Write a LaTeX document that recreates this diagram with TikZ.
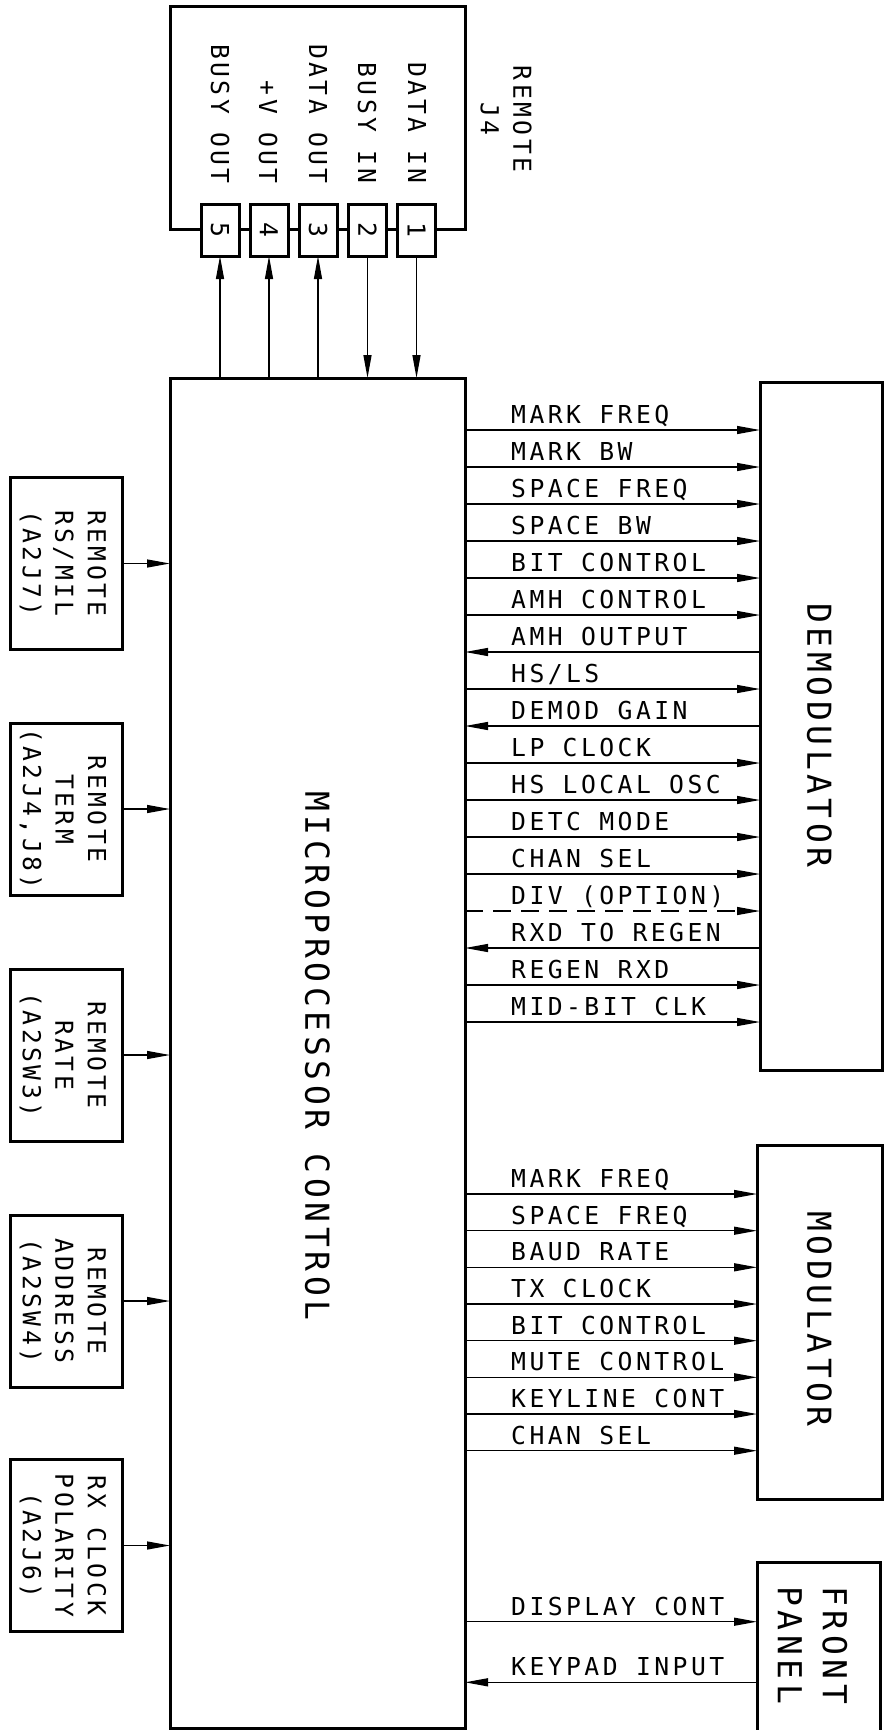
\documentclass[tikz,border=0pt]{standalone}
\usepackage{fontspec}
\setmainfont{DejaVu Sans Mono}[LetterSpace=14]
\usetikzlibrary{arrows.meta}
\newcommand\labf{\fontsize{24.7}{32.5}\selectfont}
\newcommand\bigf{\fontsize{33}{45}\selectfont}
\newcommand\sigR[5][]{\draw[sig,#1] (main.east |- 0,#4) -- (#3.west |- 0,#4);
  \node[lab,anchor=base west] (#2) at (511,#4-6.5) {#5};}
\newcommand\sigL[5][]{\draw[sig,#1] (#3.west |- 0,#4) -- (main.east |- 0,#4);
  \node[lab,anchor=base west] (#2) at (511,#4-6.5) {#5};}
\begin{document}
\begin{tikzpicture}[x=1pt,y=-1pt,
  box/.style={draw, line width=3pt, inner sep=0pt, outer sep=0pt},
  sig/.style={line width=1.3pt, -{Triangle[length=23pt,width=8pt]}},
  lab/.style={inner sep=0pt, font=\labf},
  rlab/.style={inner sep=0pt, font=\labf, rotate=-90, align=center},
  blab/.style={inner sep=0pt, font=\bigf, rotate=-90, align=center}]
\useasboundingbox (0,0) rectangle (885,1730);

% main block
\node[box, minimum width=295pt, minimum height=1350pt] (main) at (317.5,1053) {};
\node[blab] (mainlab) at (317.5,1056) {MICROPROCESSOR CONTROL};

% J4 connector
\node[box, minimum width=295pt, minimum height=223pt] (j4) at (317.5,117.5) {};
\node[box, fill=white, minimum width=38pt, minimum height=52pt] (p5) at (220,230) {};
\node[box, fill=white, minimum width=38pt, minimum height=52pt] (p4) at (269,230) {};
\node[box, fill=white, minimum width=38pt, minimum height=52pt] (p3) at (318,230) {};
\node[box, fill=white, minimum width=38pt, minimum height=52pt] (p2) at (367.5,230) {};
\node[box, fill=white, minimum width=38pt, minimum height=52pt] (p1) at (416.5,230) {};
\node[rlab] (n5) at (p5) {5};
\node[rlab] (n4) at (p4) {4};
\node[rlab] (n3) at (p3) {3};
\node[rlab] (n2) at (p2) {2};
\node[rlab] (n1) at (p1) {1};
\node[rlab, anchor=base east] (l5) at (211,184) {BUSY OUT};
\node[rlab, anchor=base east] (l4) at (259,184) {+V OUT};
\node[rlab, anchor=base east] (l3) at (309,184) {DATA OUT};
\node[rlab, anchor=base east] (l2) at (358,184) {BUSY IN};
\node[rlab, anchor=base east] (l1) at (408,184) {DATA IN};
\node[rlab] (j4lab) at (506,119) {REMOTE\\J4};
\draw[sig] (main.north -| p5) -- (p5.south);
\draw[sig] (main.north -| p4) -- (p4.south);
\draw[sig] (main.north -| p3) -- (p3.south);
\draw[sig] (p2.south) -- (main.north -| p2);
\draw[sig] (p1.south) -- (main.north -| p1);

% left blocks
\node[box, minimum width=112pt, minimum height=172pt] (b1) at (66,563.5) {};
\node[box, minimum width=112pt, minimum height=172pt] (b2) at (66,809) {};
\node[box, minimum width=112pt, minimum height=172pt] (b3) at (66,1055) {};
\node[box, minimum width=112pt, minimum height=172pt] (b4) at (66,1301) {};
\node[box, minimum width=112pt, minimum height=172pt] (b5) at (66,1545.5) {};
\node[rlab] (t1) at (63,563.5) {REMOTE\\RS/MIL\\(A2J7)};
\node[rlab] (t2) at (63,809) {REMOTE\\TERM\\(A2J4,J8)};
\node[rlab] (t3) at (63,1055) {REMOTE\\RATE\\(A2SW3)};
\node[rlab] (t4) at (63,1301) {REMOTE\\ADDRESS\\(A2SW4)};
\node[rlab] (t5) at (63,1545.5) {RX CLOCK\\POLARITY\\(A2J6)};
\draw[sig] (b1.east) -- (main.west |- b1.east);
\draw[sig] (b2.east) -- (main.west |- b2.east);
\draw[sig] (b3.east) -- (main.west |- b3.east);
\draw[sig] (b4.east) -- (main.west |- b4.east);
\draw[sig] (b5.east) -- (main.west |- b5.east);

% demodulator
\node[box, minimum width=122pt, minimum height=688pt] (demod) at (821,726) {};
\node[blab] (demodlab) at (819.5,735.5) {DEMODULATOR};
\sigR{d0}{demod}{430}{MARK FREQ}
\sigR{d1}{demod}{467}{MARK BW}
\sigR{d2}{demod}{504}{SPACE FREQ}
\sigR{d3}{demod}{541}{SPACE BW}
\sigR{d4}{demod}{578}{BIT CONTROL}
\sigR{d5}{demod}{615}{AMH CONTROL}
\sigL{d6}{demod}{652}{AMH OUTPUT}
\sigR{d7}{demod}{689}{HS/LS}
\sigL{d8}{demod}{726}{DEMOD GAIN}
\sigR{d9}{demod}{763}{LP CLOCK}
\sigR{d10}{demod}{800}{HS LOCAL OSC}
\sigR{d11}{demod}{837}{DETC MODE}
\sigR{d12}{demod}{874}{CHAN SEL}
\sigR[dash pattern=on 18pt off 10pt]{d13}{demod}{911}{DIV (OPTION)}
\sigL{d14}{demod}{948}{RXD TO REGEN}
\sigR{d15}{demod}{985}{REGEN RXD}
\sigR{d16}{demod}{1022}{MID-BIT CLK}

% modulator
\node[box, minimum width=125pt, minimum height=354pt] (mod) at (819.5,1322) {};
\node[blab] (modlab) at (819.5,1319) {MODULATOR};
\sigR{m0}{mod}{1194}{MARK FREQ}
\sigR{m1}{mod}{1230.7}{SPACE FREQ}
\sigR{m2}{mod}{1267.3}{BAUD RATE}
\sigR{m3}{mod}{1304}{TX CLOCK}
\sigR{m4}{mod}{1340.7}{BIT CONTROL}
\sigR{m5}{mod}{1377.3}{MUTE CONTROL}
\sigR{m6}{mod}{1414}{KEYLINE CONT}
\sigR{m7}{mod}{1450.7}{CHAN SEL}

% front panel
\node[box, minimum width=123pt, minimum height=190pt] (front) at (818.5,1657) {};
\node[blab] (frontlab) at (812.5,1645) {FRONT\\PANEL};
\sigR{f0}{front}{1621.7}{DISPLAY CONT}
\sigL{f1}{front}{1682.3}{KEYPAD INPUT}
\end{tikzpicture}
\end{document}
